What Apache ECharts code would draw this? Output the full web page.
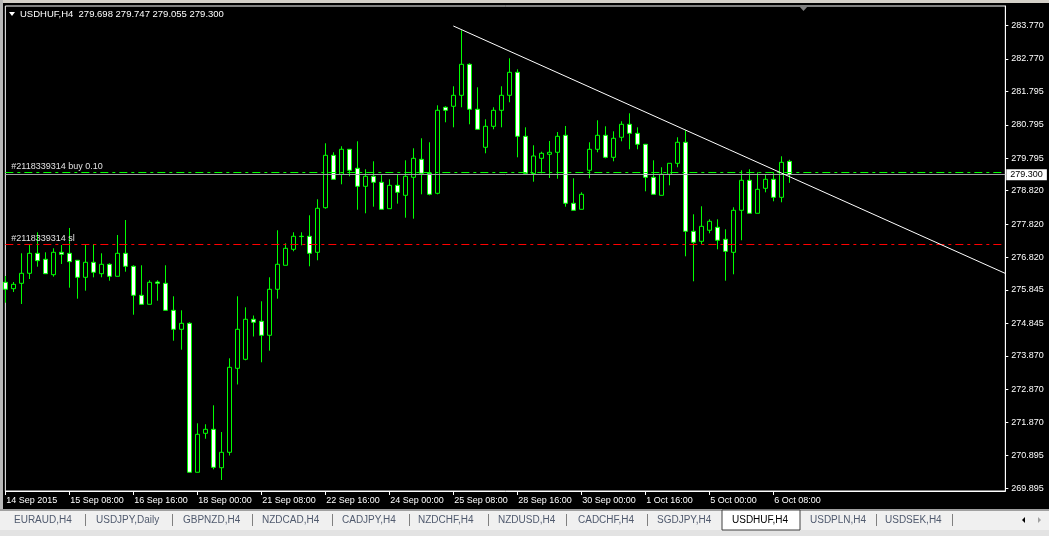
<!DOCTYPE html>
<html><head><meta charset="utf-8">
<script src="https://cdn.jsdelivr.net/npm/echarts@6/dist/echarts.min.js"></script>
<style>html,body{margin:0;padding:0;background:#000;overflow:hidden}#c{width:1049px;height:536px}</style>
</head><body><div id="c"></div>
<script>
// ---------- data ----------
const symbolName = 'USDHUF,H4';
const tickLabels = ['14 Sep 2015','15 Sep 08:00','16 Sep 16:00','18 Sep 00:00','21 Sep 08:00','22 Sep 16:00','24 Sep 00:00','25 Sep 08:00','28 Sep 16:00','30 Sep 00:00','1 Oct 16:00','5 Oct 00:00','6 Oct 08:00'];
const priceLabels = ['283.770','282.770','281.795','280.795','279.795','278.820','277.820','276.820','275.845','274.845','273.870','272.870','271.870','270.895','269.895'];
const opens = [276.074,275.883,276.044,276.344,276.943,276.764,276.302,276.973,276.943,276.734,
276.224,276.674,276.332,276.614,276.254,276.943,276.554,275.685,275.415,276.083,
276.044,275.235,274.666,274.846,270.381,271.549,271.669,270.518,270.980,273.497,
273.767,274.966,274.906,274.486,275.865,276.584,277.063,277.453,277.453,276.973,
278.310,279.880,279.311,280.060,279.491,278.951,279.251,279.071,278.280,278.981,
278.681,279.221,279.760,279.341,278.741,281.319,281.349,281.678,282.607,281.259,
280.120,280.749,281.229,281.678,282.367,280.449,279.335,279.790,279.910,279.970,
280.479,278.442,278.262,279.431,280.060,280.479,279.820,280.420,280.809,280.539,
280.210,279.221,278.681,279.311,279.640,280.270,277.603,277.303,277.633,277.722,
277.363,276.973,278.232,279.131,278.142,278.891,279.161,278.621,279.698];
const closes = [275.865,276.014,276.344,276.943,276.722,276.332,276.973,276.913,276.692,276.224,
276.674,276.374,276.614,276.254,276.943,276.554,275.685,275.415,276.074,276.044,
275.235,274.666,274.846,270.381,271.519,271.669,270.530,270.980,273.527,274.666,
274.966,274.876,274.486,275.865,276.614,277.093,277.453,277.445,276.943,278.292,
279.880,279.161,280.060,279.431,278.951,279.251,279.071,278.262,278.981,278.771,
279.251,279.790,279.341,278.711,281.229,281.229,281.678,282.607,281.259,280.659,
280.749,281.229,281.678,282.367,280.449,279.341,279.859,279.940,279.970,280.449,
278.442,278.232,278.711,280.060,280.479,279.820,280.390,280.809,280.539,280.210,
279.221,278.711,279.311,279.640,280.270,277.603,277.273,277.752,277.902,277.333,
277.003,278.232,279.131,278.142,278.861,279.161,278.621,279.670,279.300];
const lows = [275.463,275.784,275.424,276.173,276.542,276.323,276.242,276.623,275.913,275.583,
275.823,276.224,276.224,276.122,276.254,276.392,275.103,275.415,275.415,275.523,
275.235,274.324,274.055,270.381,270.381,271.387,270.470,270.150,270.884,273.012,
273.737,274.450,273.677,274.025,275.583,276.584,277.003,277.183,276.554,276.734,
278.280,279.161,279.011,279.251,278.250,278.142,278.340,278.262,278.280,278.430,
278.010,277.980,278.711,278.681,278.711,280.869,280.719,281.319,280.809,280.659,
279.940,280.659,280.719,281.468,279.820,279.341,279.089,279.341,279.200,279.179,
278.340,278.232,278.262,279.191,279.970,279.790,279.700,280.300,280.060,280.060,
278.801,278.711,278.681,278.981,279.521,276.853,276.104,277.213,277.543,277.063,
276.122,276.314,277.333,278.142,278.142,278.771,278.502,278.472,279.055];
const highs = [276.263,276.083,276.943,277.192,277.573,276.973,277.093,277.192,277.702,276.734,
277.192,277.222,276.943,276.644,277.492,277.941,276.584,276.584,276.134,276.134,
276.584,275.655,275.235,274.876,271.849,271.819,272.388,271.588,273.797,275.655,
275.325,275.079,275.505,276.224,277.633,277.243,277.573,277.573,278.082,278.562,
280.240,279.970,280.150,280.060,280.300,279.461,279.700,279.311,279.161,279.311,
279.730,280.090,280.390,280.270,281.378,281.349,281.948,283.626,282.637,281.918,
280.959,281.319,281.948,282.787,282.457,280.719,280.180,279.988,280.309,280.578,
280.758,279.191,278.771,280.270,280.929,280.749,280.599,280.899,281.139,280.719,
280.210,279.730,279.521,279.640,280.420,280.629,278.112,278.352,277.962,277.962,
277.663,278.322,279.431,279.461,279.371,279.311,279.371,279.850,279.747];
const orderLabel = '#2118339314 buy 0.10';
const slLabel = '#2118339314 sl';
const buyPrice = 279.370;
const slPrice = 277.213;
const bidPrice = 279.300;
const trendStart = [56, 283.755];
const trendEnd = [125, 276.340];
const slotCount = 126;
const tabNames = ['EURAUD,H4','USDJPY,Daily','GBPNZD,H4','NZDCAD,H4','CADJPY,H4','NZDCHF,H4','NZDUSD,H4','CADCHF,H4','SGDJPY,H4','USDHUF,H4','USDPLN,H4','USDSEK,H4'];
const activeTab = 'USDHUF,H4';
// ---------- build ----------
const categories = [];
for (let i = 0; i < slotCount; i++) categories.push(String(i));
const isTick = i => i % 8 === 0 && i / 8 < tickLabels.length;
const ohlc = opens.map((o, i) => [o, closes[i], lows[i], highs[i]]);
const priceTicks = priceLabels.map(Number);
const FONT = '"Liberation Sans", Arial, sans-serif';
const last = opens.length - 1;
const header = symbolName + '  ' + [opens[last], highs[last], lows[last], closes[last]].map(v => v.toFixed(3)).join(' ');

const tabX = [14, 96, 183, 262, 342, 418, 498, 578, 657, 732, 810, 885];
const sepX = [85, 172, 252, 332, 409, 488, 566, 647, 876, 952];
const gfx = [
  {type:'rect', shape:{x:0,y:0,width:1049,height:3}, style:{fill:'#d4d0c8'}, z:100},
  {type:'rect', shape:{x:0,y:0,width:3,height:510}, style:{fill:'#b8b8b8'}, z:100},
  {type:'rect', shape:{x:0,y:509,width:1049,height:27}, style:{fill:'#f0f0f0'}, z:100},
  {type:'rect', shape:{x:0,y:509,width:1049,height:2}, style:{fill:'#a0a0a0'}, z:100},
  {type:'rect', shape:{x:0,y:530,width:1049,height:6}, style:{fill:'#e3e3e3'}, z:100},
  {type:'polygon', shape:{points:[[9,12],[15,12],[12,16]]}, style:{fill:'#fff'}, z:100},
  {type:'text', x:20, y:14, style:{text:header, fill:'#fff', font:'9.5px ' + FONT, verticalAlign:'middle'}, z:100},
  {type:'polygon', shape:{points:[[799,6],[808,6],[803.5,11]]}, style:{fill:'#808080'}, z:100},
  {type:'polygon', shape:{points:[[1025,517],[1025,523],[1022,520]]}, style:{fill:'#000'}, z:100},
  {type:'polygon', shape:{points:[[1038,517],[1038,523],[1041,520]]}, style:{fill:'#a0a0a0'}, z:100}
];
tabNames.forEach((t, i) => {
  if (t === activeTab) {
    gfx.push({type:'rect', shape:{x:tabX[i]-10, y:510, width:78, height:20}, style:{fill:'#fff', stroke:'#404040', lineWidth:1}, z:101});
  }
  gfx.push({type:'text', x:tabX[i], y:520, style:{text:t, fill: t === activeTab ? '#000' : '#505a6e', font:'10px ' + FONT, verticalAlign:'middle'}, z:102});
});
sepX.forEach(x => gfx.push({type:'rect', shape:{x:x, y:514, width:1, height:12}, style:{fill:'#808080'}, z:101}));

const chart = echarts.init(document.getElementById('c'), null, {renderer:'canvas'});
chart.setOption({
  backgroundColor:'#000',
  animation:false,
  grid:{left:5.33, right:43.67, top:6, bottom:45, show:true, borderColor:'#fff', borderWidth:1, backgroundColor:'transparent'},
  xAxis:{type:'category', data:categories, boundaryGap:false,
    axisLine:{lineStyle:{color:'#fff', width:1}},
    axisTick:{interval:(i) => isTick(i), length:4, lineStyle:{color:'#fff'}},
    axisLabel:{interval:(i) => isTick(i), formatter:(v, i) => isTick(i) ? tickLabels[i / 8] : '', color:'#fff', fontSize:9, fontFamily:FONT, align:'left', margin:5, padding:[0,0,0,1]},
    splitLine:{show:false}},
  yAxis:{type:'value', position:'right', min:269.82, max:284.354,
    axisLine:{show:true, lineStyle:{color:'#fff'}},
    axisTick:{show:true, customValues:priceTicks, length:3, lineStyle:{color:'#fff'}},
    axisLabel:{customValues:priceTicks, formatter:v => v.toFixed(3), color:'#fff', fontSize:9, fontFamily:FONT, margin:6},
    splitLine:{show:false}},
  graphic:gfx,
  series:[
    {type:'candlestick', data:ohlc, barWidth:4, clip:false,
      itemStyle:{color:'#000', color0:'#fff', borderColor:'#00ff00', borderColor0:'#00ff00', borderColorDoji:'#00ff00', borderWidth:1},
      markLine:{symbol:['none','none'], silent:true, animation:false,
        data:[
          {yAxis:buyPrice, lineStyle:{color:'#00ff00', type:[8,4,3,4], width:1},
            label:{show:true, position:'insideStartTop', formatter:orderLabel, color:'#e0e0e0', fontSize:9, fontFamily:FONT, distance:[6,1]}},
          {yAxis:slPrice, lineStyle:{color:'#ff0000', type:[8,4,3,4], width:1},
            label:{show:true, position:'insideStartTop', formatter:slLabel, color:'#e0e0e0', fontSize:9, fontFamily:FONT, distance:[6,1]}},
          {yAxis:bidPrice, lineStyle:{color:'#a0a0a4', type:'solid', width:1},
            label:{show:true, position:'end', formatter:bidPrice.toFixed(3), color:'#000', backgroundColor:'#fff', padding:[1,4,1,4], fontSize:9, fontFamily:FONT, distance:1}}
        ]}},
    {type:'line', data:[trendStart, trendEnd], symbol:'none', showSymbol:false, silent:true,
      lineStyle:{color:'#fff', width:1}, z:5}
  ]
});
</script></body></html>
